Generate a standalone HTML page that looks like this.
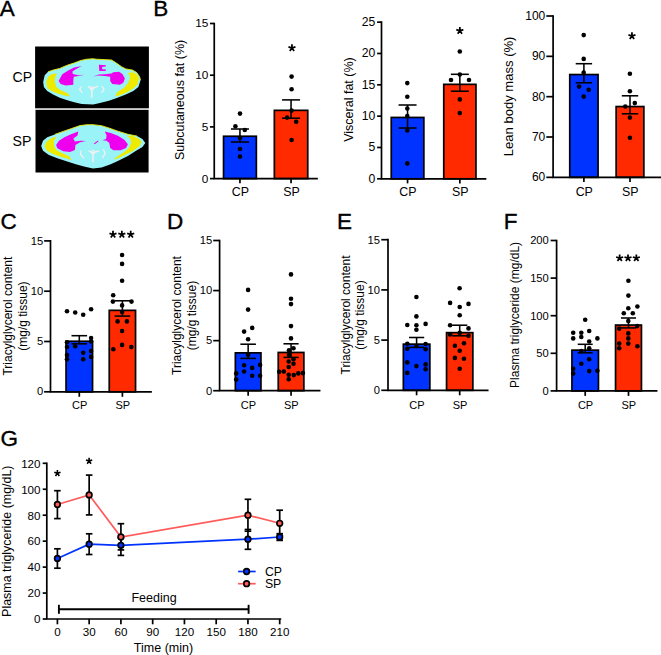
<!DOCTYPE html>
<html><head><meta charset="utf-8"><style>html,body{margin:0;padding:0;background:#fff;}svg{display:block;}</style></head><body>
<svg width="661" height="655" viewBox="0 0 661 655" font-family='"Liberation Sans", sans-serif'>
<rect width="661" height="655" fill="#fff"/>
<text x="-0.15" y="16.30" font-size="22.5" text-anchor="start" stroke="#000" stroke-width="0.35">A</text>
<text x="153.20" y="16.30" font-size="22.5" text-anchor="start" stroke="#000" stroke-width="0.35">B</text>
<text x="0.50" y="229.10" font-size="22.5" text-anchor="start" stroke="#000" stroke-width="0.35">C</text>
<text x="166.90" y="228.90" font-size="22.5" text-anchor="start" stroke="#000" stroke-width="0.35">D</text>
<text x="337.10" y="229.10" font-size="22.5" text-anchor="start" stroke="#000" stroke-width="0.35">E</text>
<text x="503.70" y="229.10" font-size="22.5" text-anchor="start" stroke="#000" stroke-width="0.35">F</text>
<text x="0.50" y="445.90" font-size="22.5" text-anchor="start" stroke="#000" stroke-width="0.35">G</text>
<rect x="223.55" y="136.25" width="32.80" height="42.35" fill="#0033ff" stroke="#000" stroke-width="1.7"/>
<rect x="274.35" y="110.35" width="33.40" height="68.25" fill="#ff2a00" stroke="#000" stroke-width="1.7"/>
<circle cx="240.00" cy="113.60" r="2.3" fill="#000"/>
<circle cx="235.40" cy="126.30" r="2.3" fill="#000"/>
<circle cx="244.80" cy="130.00" r="2.3" fill="#000"/>
<circle cx="240.00" cy="138.00" r="2.3" fill="#000"/>
<circle cx="240.00" cy="149.00" r="2.3" fill="#000"/>
<circle cx="240.00" cy="156.60" r="2.3" fill="#000"/>
<circle cx="291.60" cy="76.60" r="2.3" fill="#000"/>
<circle cx="291.60" cy="89.20" r="2.3" fill="#000"/>
<circle cx="291.60" cy="110.60" r="2.3" fill="#000"/>
<circle cx="287.10" cy="117.60" r="2.3" fill="#000"/>
<circle cx="296.20" cy="121.80" r="2.3" fill="#000"/>
<circle cx="291.60" cy="140.00" r="2.3" fill="#000"/>
<line x1="239.95" y1="129.00" x2="239.95" y2="142.00" stroke="#000" stroke-width="1.55" stroke-linecap="butt"/>
<line x1="230.95" y1="129.00" x2="248.95" y2="129.00" stroke="#000" stroke-width="1.55" stroke-linecap="butt"/>
<line x1="230.95" y1="142.00" x2="248.95" y2="142.00" stroke="#000" stroke-width="1.55" stroke-linecap="butt"/>
<line x1="291.05" y1="99.90" x2="291.05" y2="118.20" stroke="#000" stroke-width="1.55" stroke-linecap="butt"/>
<line x1="282.05" y1="99.90" x2="300.05" y2="99.90" stroke="#000" stroke-width="1.55" stroke-linecap="butt"/>
<line x1="282.05" y1="118.20" x2="300.05" y2="118.20" stroke="#000" stroke-width="1.55" stroke-linecap="butt"/>
<path d="M214.25,23.50 L214.25,178.60 L317.00,178.60" fill="none" stroke="#000" stroke-width="1.7" stroke-linecap="square"/>
<line x1="209.95" y1="178.60" x2="214.25" y2="178.60" stroke="#000" stroke-width="1.7" stroke-linecap="butt"/>
<text x="208.35" y="182.50" font-size="11.8" text-anchor="end">0</text>
<line x1="209.95" y1="126.90" x2="214.25" y2="126.90" stroke="#000" stroke-width="1.7" stroke-linecap="butt"/>
<text x="208.35" y="130.80" font-size="11.8" text-anchor="end">5</text>
<line x1="209.95" y1="75.20" x2="214.25" y2="75.20" stroke="#000" stroke-width="1.7" stroke-linecap="butt"/>
<text x="208.35" y="79.10" font-size="11.8" text-anchor="end">10</text>
<line x1="209.95" y1="23.50" x2="214.25" y2="23.50" stroke="#000" stroke-width="1.7" stroke-linecap="butt"/>
<text x="208.35" y="27.40" font-size="11.8" text-anchor="end">15</text>
<line x1="239.95" y1="178.60" x2="239.95" y2="183.20" stroke="#000" stroke-width="1.7" stroke-linecap="butt"/>
<text x="240.32" y="195.70" font-size="12.4" text-anchor="middle">CP</text>
<line x1="291.05" y1="178.60" x2="291.05" y2="183.20" stroke="#000" stroke-width="1.7" stroke-linecap="butt"/>
<text x="291.42" y="195.70" font-size="12.4" text-anchor="middle">SP</text>
<text x="184.20" y="99.90" font-size="12.5" text-anchor="middle" transform="rotate(-90 184.20 99.90)">Subcutaneous fat (%)</text>
<path d="M291.95,48.00L291.95,44.30M291.95,48.00L295.47,46.86M291.95,48.00L294.12,50.99M291.95,48.00L289.78,50.99M291.95,48.00L288.43,46.86" stroke="#000" stroke-width="1.75" fill="none"/>
<rect x="391.25" y="117.45" width="32.60" height="61.35" fill="#0033ff" stroke="#000" stroke-width="1.7"/>
<rect x="443.75" y="84.35" width="32.20" height="94.45" fill="#ff2a00" stroke="#000" stroke-width="1.7"/>
<circle cx="407.30" cy="83.10" r="2.3" fill="#000"/>
<circle cx="407.30" cy="96.80" r="2.3" fill="#000"/>
<circle cx="407.30" cy="108.50" r="2.3" fill="#000"/>
<circle cx="407.30" cy="116.00" r="2.3" fill="#000"/>
<circle cx="407.30" cy="130.40" r="2.3" fill="#000"/>
<circle cx="407.30" cy="163.40" r="2.3" fill="#000"/>
<circle cx="459.80" cy="51.50" r="2.3" fill="#000"/>
<circle cx="459.80" cy="74.50" r="2.3" fill="#000"/>
<circle cx="451.00" cy="80.00" r="2.3" fill="#000"/>
<circle cx="469.00" cy="80.00" r="2.3" fill="#000"/>
<circle cx="459.80" cy="99.40" r="2.3" fill="#000"/>
<circle cx="459.80" cy="113.10" r="2.3" fill="#000"/>
<line x1="407.55" y1="105.00" x2="407.55" y2="128.00" stroke="#000" stroke-width="1.55" stroke-linecap="butt"/>
<line x1="398.55" y1="105.00" x2="416.55" y2="105.00" stroke="#000" stroke-width="1.55" stroke-linecap="butt"/>
<line x1="398.55" y1="128.00" x2="416.55" y2="128.00" stroke="#000" stroke-width="1.55" stroke-linecap="butt"/>
<line x1="459.85" y1="74.30" x2="459.85" y2="91.20" stroke="#000" stroke-width="1.55" stroke-linecap="butt"/>
<line x1="450.85" y1="74.30" x2="468.85" y2="74.30" stroke="#000" stroke-width="1.55" stroke-linecap="butt"/>
<line x1="450.85" y1="91.20" x2="468.85" y2="91.20" stroke="#000" stroke-width="1.55" stroke-linecap="butt"/>
<path d="M381.50,22.15 L381.50,178.80 L485.50,178.80" fill="none" stroke="#000" stroke-width="1.7" stroke-linecap="square"/>
<line x1="377.10" y1="178.80" x2="381.50" y2="178.80" stroke="#000" stroke-width="1.7" stroke-linecap="butt"/>
<text x="375.20" y="182.50" font-size="12.2" text-anchor="end">0</text>
<line x1="377.10" y1="147.47" x2="381.50" y2="147.47" stroke="#000" stroke-width="1.7" stroke-linecap="butt"/>
<text x="375.20" y="151.17" font-size="12.2" text-anchor="end">5</text>
<line x1="377.10" y1="116.14" x2="381.50" y2="116.14" stroke="#000" stroke-width="1.7" stroke-linecap="butt"/>
<text x="375.20" y="119.84" font-size="12.2" text-anchor="end">10</text>
<line x1="377.10" y1="84.81" x2="381.50" y2="84.81" stroke="#000" stroke-width="1.7" stroke-linecap="butt"/>
<text x="375.20" y="88.51" font-size="12.2" text-anchor="end">15</text>
<line x1="377.10" y1="53.48" x2="381.50" y2="53.48" stroke="#000" stroke-width="1.7" stroke-linecap="butt"/>
<text x="375.20" y="57.18" font-size="12.2" text-anchor="end">20</text>
<line x1="377.10" y1="22.15" x2="381.50" y2="22.15" stroke="#000" stroke-width="1.7" stroke-linecap="butt"/>
<text x="375.20" y="25.85" font-size="12.2" text-anchor="end">25</text>
<line x1="407.55" y1="178.80" x2="407.55" y2="183.40" stroke="#000" stroke-width="1.7" stroke-linecap="butt"/>
<text x="407.92" y="195.70" font-size="12.4" text-anchor="middle">CP</text>
<line x1="459.85" y1="178.80" x2="459.85" y2="183.40" stroke="#000" stroke-width="1.7" stroke-linecap="butt"/>
<text x="460.22" y="195.70" font-size="12.4" text-anchor="middle">SP</text>
<text x="352.60" y="99.50" font-size="12.5" text-anchor="middle" transform="rotate(-90 352.60 99.50)">Visceral fat (%)</text>
<path d="M459.85,30.80L459.85,27.10M459.85,30.80L463.37,29.66M459.85,30.80L462.02,33.79M459.85,30.80L457.68,33.79M459.85,30.80L456.33,29.66" stroke="#000" stroke-width="1.75" fill="none"/>
<rect x="569.75" y="74.55" width="28.30" height="102.80" fill="#0033ff" stroke="#000" stroke-width="1.7"/>
<rect x="616.15" y="106.55" width="27.70" height="70.80" fill="#ff2a00" stroke="#000" stroke-width="1.7"/>
<circle cx="583.70" cy="35.10" r="2.3" fill="#000"/>
<circle cx="583.70" cy="58.90" r="2.3" fill="#000"/>
<circle cx="583.70" cy="72.60" r="2.3" fill="#000"/>
<circle cx="579.10" cy="86.60" r="2.3" fill="#000"/>
<circle cx="588.70" cy="89.70" r="2.3" fill="#000"/>
<circle cx="583.70" cy="96.60" r="2.3" fill="#000"/>
<circle cx="629.90" cy="73.70" r="2.3" fill="#000"/>
<circle cx="629.90" cy="91.20" r="2.3" fill="#000"/>
<circle cx="625.30" cy="106.50" r="2.3" fill="#000"/>
<circle cx="634.80" cy="103.10" r="2.3" fill="#000"/>
<circle cx="629.90" cy="117.60" r="2.3" fill="#000"/>
<circle cx="629.90" cy="137.80" r="2.3" fill="#000"/>
<line x1="583.90" y1="63.70" x2="583.90" y2="82.80" stroke="#000" stroke-width="1.55" stroke-linecap="butt"/>
<line x1="575.70" y1="63.70" x2="592.10" y2="63.70" stroke="#000" stroke-width="1.55" stroke-linecap="butt"/>
<line x1="575.70" y1="82.80" x2="592.10" y2="82.80" stroke="#000" stroke-width="1.55" stroke-linecap="butt"/>
<line x1="630.00" y1="95.80" x2="630.00" y2="113.80" stroke="#000" stroke-width="1.55" stroke-linecap="butt"/>
<line x1="621.80" y1="95.80" x2="638.20" y2="95.80" stroke="#000" stroke-width="1.55" stroke-linecap="butt"/>
<line x1="621.80" y1="113.80" x2="638.20" y2="113.80" stroke="#000" stroke-width="1.55" stroke-linecap="butt"/>
<path d="M553.10,16.00 L553.10,177.35 L661.00,177.35" fill="none" stroke="#000" stroke-width="1.7" stroke-linecap="square"/>
<line x1="546.30" y1="177.35" x2="553.10" y2="177.35" stroke="#000" stroke-width="1.7" stroke-linecap="butt"/>
<text x="545.30" y="181.45" font-size="12.0" text-anchor="end">60</text>
<line x1="546.30" y1="137.01" x2="553.10" y2="137.01" stroke="#000" stroke-width="1.7" stroke-linecap="butt"/>
<text x="545.30" y="141.11" font-size="12.0" text-anchor="end">70</text>
<line x1="546.30" y1="96.67" x2="553.10" y2="96.67" stroke="#000" stroke-width="1.7" stroke-linecap="butt"/>
<text x="545.30" y="100.77" font-size="12.0" text-anchor="end">80</text>
<line x1="546.30" y1="56.34" x2="553.10" y2="56.34" stroke="#000" stroke-width="1.7" stroke-linecap="butt"/>
<text x="545.30" y="60.44" font-size="12.0" text-anchor="end">90</text>
<line x1="546.30" y1="16.00" x2="553.10" y2="16.00" stroke="#000" stroke-width="1.7" stroke-linecap="butt"/>
<text x="545.30" y="20.10" font-size="12.0" text-anchor="end">100</text>
<line x1="583.90" y1="177.35" x2="583.90" y2="181.95" stroke="#000" stroke-width="1.7" stroke-linecap="butt"/>
<text x="584.27" y="195.90" font-size="12.4" text-anchor="middle">CP</text>
<line x1="630.00" y1="177.35" x2="630.00" y2="181.95" stroke="#000" stroke-width="1.7" stroke-linecap="butt"/>
<text x="630.37" y="195.90" font-size="12.4" text-anchor="middle">SP</text>
<text x="513.50" y="96.40" font-size="13.05" text-anchor="middle" transform="rotate(-90 513.50 96.40)">Lean body mass (%)</text>
<path d="M631.95,36.00L631.95,32.30M631.95,36.00L635.47,34.86M631.95,36.00L634.12,38.99M631.95,36.00L629.78,38.99M631.95,36.00L628.43,34.86" stroke="#000" stroke-width="1.75" fill="none"/>
<rect x="66.05" y="341.25" width="26.50" height="50.55" fill="#0033ff" stroke="#000" stroke-width="1.7"/>
<rect x="109.25" y="310.35" width="26.30" height="81.45" fill="#ff2a00" stroke="#000" stroke-width="1.7"/>
<circle cx="67.00" cy="311.30" r="2.3" fill="#000"/>
<circle cx="75.20" cy="312.50" r="2.3" fill="#000"/>
<circle cx="83.20" cy="314.70" r="2.3" fill="#000"/>
<circle cx="91.10" cy="309.30" r="2.3" fill="#000"/>
<circle cx="91.10" cy="338.10" r="2.3" fill="#000"/>
<circle cx="67.00" cy="342.20" r="2.3" fill="#000"/>
<circle cx="75.20" cy="346.30" r="2.3" fill="#000"/>
<circle cx="67.00" cy="347.00" r="2.3" fill="#000"/>
<circle cx="91.10" cy="341.50" r="2.3" fill="#000"/>
<circle cx="83.20" cy="352.80" r="2.3" fill="#000"/>
<circle cx="91.10" cy="351.00" r="2.3" fill="#000"/>
<circle cx="67.00" cy="355.10" r="2.3" fill="#000"/>
<circle cx="67.00" cy="359.20" r="2.3" fill="#000"/>
<circle cx="83.20" cy="359.20" r="2.3" fill="#000"/>
<circle cx="91.10" cy="356.90" r="2.3" fill="#000"/>
<circle cx="122.10" cy="255.00" r="2.3" fill="#000"/>
<circle cx="122.10" cy="263.90" r="2.3" fill="#000"/>
<circle cx="122.10" cy="280.80" r="2.3" fill="#000"/>
<circle cx="113.20" cy="295.30" r="2.3" fill="#000"/>
<circle cx="112.90" cy="301.60" r="2.3" fill="#000"/>
<circle cx="131.50" cy="301.60" r="2.3" fill="#000"/>
<circle cx="122.10" cy="305.40" r="2.3" fill="#000"/>
<circle cx="122.10" cy="312.00" r="2.3" fill="#000"/>
<circle cx="117.60" cy="321.40" r="2.3" fill="#000"/>
<circle cx="126.90" cy="321.40" r="2.3" fill="#000"/>
<circle cx="122.10" cy="331.00" r="2.3" fill="#000"/>
<circle cx="113.30" cy="349.30" r="2.3" fill="#000"/>
<circle cx="122.10" cy="344.90" r="2.3" fill="#000"/>
<circle cx="131.30" cy="347.00" r="2.3" fill="#000"/>
<line x1="79.30" y1="335.70" x2="79.30" y2="343.80" stroke="#000" stroke-width="1.55" stroke-linecap="butt"/>
<line x1="71.50" y1="335.70" x2="87.10" y2="335.70" stroke="#000" stroke-width="1.55" stroke-linecap="butt"/>
<line x1="71.50" y1="343.80" x2="87.10" y2="343.80" stroke="#000" stroke-width="1.55" stroke-linecap="butt"/>
<line x1="122.40" y1="300.80" x2="122.40" y2="316.10" stroke="#000" stroke-width="1.55" stroke-linecap="butt"/>
<line x1="114.60" y1="300.80" x2="130.20" y2="300.80" stroke="#000" stroke-width="1.55" stroke-linecap="butt"/>
<line x1="114.60" y1="316.10" x2="130.20" y2="316.10" stroke="#000" stroke-width="1.55" stroke-linecap="butt"/>
<path d="M50.50,240.90 L50.50,391.80 L151.00,391.80" fill="none" stroke="#000" stroke-width="1.7" stroke-linecap="square"/>
<line x1="44.10" y1="391.80" x2="50.50" y2="391.80" stroke="#000" stroke-width="1.7" stroke-linecap="butt"/>
<text x="43.20" y="395.40" font-size="11.2" text-anchor="end">0</text>
<line x1="44.10" y1="341.50" x2="50.50" y2="341.50" stroke="#000" stroke-width="1.7" stroke-linecap="butt"/>
<text x="43.20" y="345.10" font-size="11.2" text-anchor="end">5</text>
<line x1="44.10" y1="291.20" x2="50.50" y2="291.20" stroke="#000" stroke-width="1.7" stroke-linecap="butt"/>
<text x="43.20" y="294.80" font-size="11.2" text-anchor="end">10</text>
<line x1="44.10" y1="240.90" x2="50.50" y2="240.90" stroke="#000" stroke-width="1.7" stroke-linecap="butt"/>
<text x="43.20" y="244.50" font-size="11.2" text-anchor="end">15</text>
<line x1="79.30" y1="391.80" x2="79.30" y2="396.80" stroke="#000" stroke-width="1.7" stroke-linecap="butt"/>
<text x="79.63" y="408.50" font-size="11.0" text-anchor="middle">CP</text>
<line x1="122.40" y1="391.80" x2="122.40" y2="396.80" stroke="#000" stroke-width="1.7" stroke-linecap="butt"/>
<text x="122.73" y="408.50" font-size="11.0" text-anchor="middle">SP</text>
<text x="12.10" y="316.10" font-size="12.0" text-anchor="middle" transform="rotate(-90 12.10 316.10)">Triacylglycerol content</text>
<text x="27.30" y="316.10" font-size="12.0" text-anchor="middle" transform="rotate(-90 27.30 316.10)">(mg/g tissue)</text>
<path d="M113.00,234.50L113.00,230.80M113.00,234.50L116.52,233.36M113.00,234.50L115.17,237.49M113.00,234.50L110.83,237.49M113.00,234.50L109.48,233.36" stroke="#000" stroke-width="1.75" fill="none"/>
<path d="M121.85,234.50L121.85,230.80M121.85,234.50L125.37,233.36M121.85,234.50L124.02,237.49M121.85,234.50L119.68,237.49M121.85,234.50L118.33,233.36" stroke="#000" stroke-width="1.75" fill="none"/>
<path d="M130.70,234.50L130.70,230.80M130.70,234.50L134.22,233.36M130.70,234.50L132.87,237.49M130.70,234.50L128.53,237.49M130.70,234.50L127.18,233.36" stroke="#000" stroke-width="1.75" fill="none"/>
<rect x="235.35" y="352.85" width="25.60" height="37.85" fill="#0033ff" stroke="#000" stroke-width="1.7"/>
<rect x="278.25" y="352.45" width="25.60" height="38.25" fill="#ff2a00" stroke="#000" stroke-width="1.7"/>
<circle cx="248.10" cy="289.90" r="2.3" fill="#000"/>
<circle cx="248.10" cy="309.60" r="2.3" fill="#000"/>
<circle cx="244.10" cy="331.60" r="2.3" fill="#000"/>
<circle cx="252.20" cy="327.90" r="2.3" fill="#000"/>
<circle cx="248.10" cy="339.30" r="2.3" fill="#000"/>
<circle cx="248.10" cy="354.70" r="2.3" fill="#000"/>
<circle cx="244.10" cy="365.20" r="2.3" fill="#000"/>
<circle cx="252.20" cy="367.90" r="2.3" fill="#000"/>
<circle cx="260.10" cy="364.90" r="2.3" fill="#000"/>
<circle cx="244.10" cy="371.50" r="2.3" fill="#000"/>
<circle cx="236.20" cy="373.40" r="2.3" fill="#000"/>
<circle cx="252.20" cy="375.80" r="2.3" fill="#000"/>
<circle cx="260.10" cy="375.80" r="2.3" fill="#000"/>
<circle cx="236.20" cy="379.50" r="2.3" fill="#000"/>
<circle cx="291.00" cy="274.40" r="2.3" fill="#000"/>
<circle cx="291.00" cy="298.80" r="2.3" fill="#000"/>
<circle cx="291.00" cy="304.10" r="2.3" fill="#000"/>
<circle cx="291.00" cy="326.10" r="2.3" fill="#000"/>
<circle cx="291.00" cy="338.40" r="2.3" fill="#000"/>
<circle cx="289.00" cy="350.20" r="2.3" fill="#000"/>
<circle cx="293.50" cy="348.30" r="2.3" fill="#000"/>
<circle cx="289.00" cy="355.10" r="2.3" fill="#000"/>
<circle cx="293.50" cy="359.20" r="2.3" fill="#000"/>
<circle cx="288.70" cy="361.50" r="2.3" fill="#000"/>
<circle cx="293.50" cy="363.80" r="2.3" fill="#000"/>
<circle cx="288.70" cy="367.00" r="2.3" fill="#000"/>
<circle cx="279.20" cy="371.70" r="2.3" fill="#000"/>
<circle cx="283.80" cy="371.50" r="2.3" fill="#000"/>
<circle cx="288.70" cy="374.70" r="2.3" fill="#000"/>
<circle cx="293.80" cy="375.10" r="2.3" fill="#000"/>
<circle cx="298.30" cy="373.40" r="2.3" fill="#000"/>
<circle cx="302.90" cy="373.10" r="2.3" fill="#000"/>
<circle cx="288.70" cy="379.20" r="2.3" fill="#000"/>
<line x1="248.15" y1="344.20" x2="248.15" y2="358.40" stroke="#000" stroke-width="1.55" stroke-linecap="butt"/>
<line x1="240.35" y1="344.20" x2="255.95" y2="344.20" stroke="#000" stroke-width="1.55" stroke-linecap="butt"/>
<line x1="240.35" y1="358.40" x2="255.95" y2="358.40" stroke="#000" stroke-width="1.55" stroke-linecap="butt"/>
<line x1="291.05" y1="343.80" x2="291.05" y2="357.40" stroke="#000" stroke-width="1.55" stroke-linecap="butt"/>
<line x1="283.45" y1="343.80" x2="298.65" y2="343.80" stroke="#000" stroke-width="1.55" stroke-linecap="butt"/>
<line x1="283.45" y1="357.40" x2="298.65" y2="357.40" stroke="#000" stroke-width="1.55" stroke-linecap="butt"/>
<path d="M219.60,240.50 L219.60,390.70 L319.60,390.70" fill="none" stroke="#000" stroke-width="1.7" stroke-linecap="square"/>
<line x1="213.20" y1="390.70" x2="219.60" y2="390.70" stroke="#000" stroke-width="1.7" stroke-linecap="butt"/>
<text x="212.20" y="394.50" font-size="11.2" text-anchor="end">0</text>
<line x1="213.20" y1="340.63" x2="219.60" y2="340.63" stroke="#000" stroke-width="1.7" stroke-linecap="butt"/>
<text x="212.20" y="344.43" font-size="11.2" text-anchor="end">5</text>
<line x1="213.20" y1="290.57" x2="219.60" y2="290.57" stroke="#000" stroke-width="1.7" stroke-linecap="butt"/>
<text x="212.20" y="294.37" font-size="11.2" text-anchor="end">10</text>
<line x1="213.20" y1="240.50" x2="219.60" y2="240.50" stroke="#000" stroke-width="1.7" stroke-linecap="butt"/>
<text x="212.20" y="244.30" font-size="11.2" text-anchor="end">15</text>
<line x1="248.15" y1="390.70" x2="248.15" y2="395.70" stroke="#000" stroke-width="1.7" stroke-linecap="butt"/>
<text x="248.48" y="408.50" font-size="11.0" text-anchor="middle">CP</text>
<line x1="291.05" y1="390.70" x2="291.05" y2="395.70" stroke="#000" stroke-width="1.7" stroke-linecap="butt"/>
<text x="291.38" y="408.50" font-size="11.0" text-anchor="middle">SP</text>
<text x="180.70" y="315.50" font-size="12.0" text-anchor="middle" transform="rotate(-90 180.70 315.50)">Triacylglycerol content</text>
<text x="196.10" y="315.50" font-size="12.0" text-anchor="middle" transform="rotate(-90 196.10 315.50)">(mg/g tissue)</text>
<rect x="403.35" y="344.15" width="26.50" height="46.15" fill="#0033ff" stroke="#000" stroke-width="1.7"/>
<rect x="446.55" y="332.65" width="26.30" height="57.65" fill="#ff2a00" stroke="#000" stroke-width="1.7"/>
<circle cx="416.40" cy="297.00" r="2.3" fill="#000"/>
<circle cx="416.40" cy="316.40" r="2.3" fill="#000"/>
<circle cx="407.30" cy="325.00" r="2.3" fill="#000"/>
<circle cx="416.40" cy="325.20" r="2.3" fill="#000"/>
<circle cx="425.60" cy="323.90" r="2.3" fill="#000"/>
<circle cx="416.40" cy="329.70" r="2.3" fill="#000"/>
<circle cx="407.30" cy="343.70" r="2.3" fill="#000"/>
<circle cx="425.60" cy="344.00" r="2.3" fill="#000"/>
<circle cx="407.30" cy="348.80" r="2.3" fill="#000"/>
<circle cx="425.60" cy="349.20" r="2.3" fill="#000"/>
<circle cx="416.40" cy="346.00" r="2.3" fill="#000"/>
<circle cx="407.30" cy="362.40" r="2.3" fill="#000"/>
<circle cx="416.40" cy="366.10" r="2.3" fill="#000"/>
<circle cx="425.60" cy="364.40" r="2.3" fill="#000"/>
<circle cx="425.60" cy="369.20" r="2.3" fill="#000"/>
<circle cx="407.30" cy="372.90" r="2.3" fill="#000"/>
<circle cx="459.60" cy="288.20" r="2.3" fill="#000"/>
<circle cx="450.10" cy="302.90" r="2.3" fill="#000"/>
<circle cx="459.70" cy="307.00" r="2.3" fill="#000"/>
<circle cx="468.50" cy="303.90" r="2.3" fill="#000"/>
<circle cx="459.70" cy="315.20" r="2.3" fill="#000"/>
<circle cx="450.10" cy="325.20" r="2.3" fill="#000"/>
<circle cx="468.50" cy="328.40" r="2.3" fill="#000"/>
<circle cx="450.10" cy="334.50" r="2.3" fill="#000"/>
<circle cx="468.50" cy="335.80" r="2.3" fill="#000"/>
<circle cx="459.70" cy="332.90" r="2.3" fill="#000"/>
<circle cx="454.90" cy="345.70" r="2.3" fill="#000"/>
<circle cx="464.00" cy="343.30" r="2.3" fill="#000"/>
<circle cx="459.70" cy="350.80" r="2.3" fill="#000"/>
<circle cx="454.90" cy="357.90" r="2.3" fill="#000"/>
<circle cx="464.00" cy="358.70" r="2.3" fill="#000"/>
<circle cx="459.70" cy="368.80" r="2.3" fill="#000"/>
<line x1="416.60" y1="337.50" x2="416.60" y2="347.40" stroke="#000" stroke-width="1.55" stroke-linecap="butt"/>
<line x1="409.00" y1="337.50" x2="424.20" y2="337.50" stroke="#000" stroke-width="1.55" stroke-linecap="butt"/>
<line x1="409.00" y1="347.40" x2="424.20" y2="347.40" stroke="#000" stroke-width="1.55" stroke-linecap="butt"/>
<line x1="459.70" y1="325.20" x2="459.70" y2="335.80" stroke="#000" stroke-width="1.55" stroke-linecap="butt"/>
<line x1="452.10" y1="325.20" x2="467.30" y2="325.20" stroke="#000" stroke-width="1.55" stroke-linecap="butt"/>
<line x1="452.10" y1="335.80" x2="467.30" y2="335.80" stroke="#000" stroke-width="1.55" stroke-linecap="butt"/>
<path d="M388.00,239.70 L388.00,390.30 L487.70,390.30" fill="none" stroke="#000" stroke-width="1.7" stroke-linecap="square"/>
<line x1="381.30" y1="390.30" x2="388.00" y2="390.30" stroke="#000" stroke-width="1.7" stroke-linecap="butt"/>
<text x="380.00" y="394.10" font-size="11.2" text-anchor="end">0</text>
<line x1="381.30" y1="340.10" x2="388.00" y2="340.10" stroke="#000" stroke-width="1.7" stroke-linecap="butt"/>
<text x="380.00" y="343.90" font-size="11.2" text-anchor="end">5</text>
<line x1="381.30" y1="289.90" x2="388.00" y2="289.90" stroke="#000" stroke-width="1.7" stroke-linecap="butt"/>
<text x="380.00" y="293.70" font-size="11.2" text-anchor="end">10</text>
<line x1="381.30" y1="239.70" x2="388.00" y2="239.70" stroke="#000" stroke-width="1.7" stroke-linecap="butt"/>
<text x="380.00" y="243.50" font-size="11.2" text-anchor="end">15</text>
<line x1="416.60" y1="390.30" x2="416.60" y2="395.30" stroke="#000" stroke-width="1.7" stroke-linecap="butt"/>
<text x="416.93" y="408.50" font-size="11.0" text-anchor="middle">CP</text>
<line x1="459.70" y1="390.30" x2="459.70" y2="395.30" stroke="#000" stroke-width="1.7" stroke-linecap="butt"/>
<text x="460.03" y="408.50" font-size="11.0" text-anchor="middle">SP</text>
<text x="350.30" y="315.00" font-size="12.0" text-anchor="middle" transform="rotate(-90 350.30 315.00)">Triacylglycerol content</text>
<text x="364.20" y="315.00" font-size="12.0" text-anchor="middle" transform="rotate(-90 364.20 315.00)">(mg/g tissue)</text>
<rect x="571.95" y="350.15" width="26.50" height="40.75" fill="#0033ff" stroke="#000" stroke-width="1.7"/>
<rect x="615.55" y="325.05" width="25.90" height="65.85" fill="#ff2a00" stroke="#000" stroke-width="1.7"/>
<circle cx="585.20" cy="319.70" r="2.3" fill="#000"/>
<circle cx="573.20" cy="332.70" r="2.3" fill="#000"/>
<circle cx="573.20" cy="338.40" r="2.3" fill="#000"/>
<circle cx="581.30" cy="332.70" r="2.3" fill="#000"/>
<circle cx="581.30" cy="337.00" r="2.3" fill="#000"/>
<circle cx="589.20" cy="331.00" r="2.3" fill="#000"/>
<circle cx="597.40" cy="338.40" r="2.3" fill="#000"/>
<circle cx="589.20" cy="341.50" r="2.3" fill="#000"/>
<circle cx="589.20" cy="348.30" r="2.3" fill="#000"/>
<circle cx="581.30" cy="351.10" r="2.3" fill="#000"/>
<circle cx="589.20" cy="359.20" r="2.3" fill="#000"/>
<circle cx="581.30" cy="363.70" r="2.3" fill="#000"/>
<circle cx="573.20" cy="368.80" r="2.3" fill="#000"/>
<circle cx="573.20" cy="373.50" r="2.3" fill="#000"/>
<circle cx="589.20" cy="371.10" r="2.3" fill="#000"/>
<circle cx="597.40" cy="370.80" r="2.3" fill="#000"/>
<circle cx="628.40" cy="280.80" r="2.3" fill="#000"/>
<circle cx="628.40" cy="295.60" r="2.3" fill="#000"/>
<circle cx="628.30" cy="308.20" r="2.3" fill="#000"/>
<circle cx="637.40" cy="306.50" r="2.3" fill="#000"/>
<circle cx="623.80" cy="313.30" r="2.3" fill="#000"/>
<circle cx="632.80" cy="313.30" r="2.3" fill="#000"/>
<circle cx="628.30" cy="321.10" r="2.3" fill="#000"/>
<circle cx="619.20" cy="328.60" r="2.3" fill="#000"/>
<circle cx="637.20" cy="326.10" r="2.3" fill="#000"/>
<circle cx="628.30" cy="333.40" r="2.3" fill="#000"/>
<circle cx="628.30" cy="338.40" r="2.3" fill="#000"/>
<circle cx="619.20" cy="343.60" r="2.3" fill="#000"/>
<circle cx="628.30" cy="343.60" r="2.3" fill="#000"/>
<circle cx="619.20" cy="348.30" r="2.3" fill="#000"/>
<circle cx="637.40" cy="346.30" r="2.3" fill="#000"/>
<line x1="585.20" y1="344.30" x2="585.20" y2="352.80" stroke="#000" stroke-width="1.55" stroke-linecap="butt"/>
<line x1="577.70" y1="344.30" x2="592.70" y2="344.30" stroke="#000" stroke-width="1.55" stroke-linecap="butt"/>
<line x1="577.70" y1="352.80" x2="592.70" y2="352.80" stroke="#000" stroke-width="1.55" stroke-linecap="butt"/>
<line x1="628.50" y1="318.00" x2="628.50" y2="327.90" stroke="#000" stroke-width="1.55" stroke-linecap="butt"/>
<line x1="621.00" y1="318.00" x2="636.00" y2="318.00" stroke="#000" stroke-width="1.55" stroke-linecap="butt"/>
<line x1="621.00" y1="327.90" x2="636.00" y2="327.90" stroke="#000" stroke-width="1.55" stroke-linecap="butt"/>
<path d="M556.60,240.50 L556.60,390.90 L656.60,390.90" fill="none" stroke="#000" stroke-width="1.7" stroke-linecap="square"/>
<line x1="550.60" y1="390.90" x2="556.60" y2="390.90" stroke="#000" stroke-width="1.7" stroke-linecap="butt"/>
<text x="548.80" y="394.70" font-size="11.2" text-anchor="end">0</text>
<line x1="550.60" y1="353.30" x2="556.60" y2="353.30" stroke="#000" stroke-width="1.7" stroke-linecap="butt"/>
<text x="548.80" y="357.10" font-size="11.2" text-anchor="end">50</text>
<line x1="550.60" y1="315.70" x2="556.60" y2="315.70" stroke="#000" stroke-width="1.7" stroke-linecap="butt"/>
<text x="548.80" y="319.50" font-size="11.2" text-anchor="end">100</text>
<line x1="550.60" y1="278.10" x2="556.60" y2="278.10" stroke="#000" stroke-width="1.7" stroke-linecap="butt"/>
<text x="548.80" y="281.90" font-size="11.2" text-anchor="end">150</text>
<line x1="550.60" y1="240.50" x2="556.60" y2="240.50" stroke="#000" stroke-width="1.7" stroke-linecap="butt"/>
<text x="548.80" y="244.30" font-size="11.2" text-anchor="end">200</text>
<line x1="585.20" y1="390.90" x2="585.20" y2="395.90" stroke="#000" stroke-width="1.7" stroke-linecap="butt"/>
<text x="585.53" y="408.50" font-size="11.0" text-anchor="middle">CP</text>
<line x1="628.50" y1="390.90" x2="628.50" y2="395.90" stroke="#000" stroke-width="1.7" stroke-linecap="butt"/>
<text x="628.83" y="408.50" font-size="11.0" text-anchor="middle">SP</text>
<text x="518.80" y="314.90" font-size="12.0" text-anchor="middle" transform="rotate(-90 518.80 314.90)">Plasma triglyceride (mg/dL)</text>
<path d="M619.65,258.10L619.65,254.40M619.65,258.10L623.17,256.96M619.65,258.10L621.82,261.09M619.65,258.10L617.48,261.09M619.65,258.10L616.13,256.96" stroke="#000" stroke-width="1.75" fill="none"/>
<path d="M628.00,258.10L628.00,254.40M628.00,258.10L631.52,256.96M628.00,258.10L630.17,261.09M628.00,258.10L625.83,261.09M628.00,258.10L624.48,256.96" stroke="#000" stroke-width="1.75" fill="none"/>
<path d="M636.35,258.10L636.35,254.40M636.35,258.10L639.87,256.96M636.35,258.10L638.52,261.09M636.35,258.10L634.18,261.09M636.35,258.10L632.83,256.96" stroke="#000" stroke-width="1.75" fill="none"/>
<path d="M46.8,463.3 L46.8,619.0 L280.4,619.0" fill="none" stroke="#000" stroke-width="1.7" stroke-linecap="square"/>
<line x1="42.70" y1="619.00" x2="46.80" y2="619.00" stroke="#000" stroke-width="1.7" stroke-linecap="butt"/>
<text x="40.50" y="623.30" font-size="11.6" text-anchor="end">0</text>
<line x1="42.70" y1="593.05" x2="46.80" y2="593.05" stroke="#000" stroke-width="1.7" stroke-linecap="butt"/>
<text x="40.50" y="597.35" font-size="11.6" text-anchor="end">20</text>
<line x1="42.70" y1="567.10" x2="46.80" y2="567.10" stroke="#000" stroke-width="1.7" stroke-linecap="butt"/>
<text x="40.50" y="571.40" font-size="11.6" text-anchor="end">40</text>
<line x1="42.70" y1="541.15" x2="46.80" y2="541.15" stroke="#000" stroke-width="1.7" stroke-linecap="butt"/>
<text x="40.50" y="545.45" font-size="11.6" text-anchor="end">60</text>
<line x1="42.70" y1="515.20" x2="46.80" y2="515.20" stroke="#000" stroke-width="1.7" stroke-linecap="butt"/>
<text x="40.50" y="519.50" font-size="11.6" text-anchor="end">80</text>
<line x1="42.70" y1="489.25" x2="46.80" y2="489.25" stroke="#000" stroke-width="1.7" stroke-linecap="butt"/>
<text x="40.50" y="493.55" font-size="11.6" text-anchor="end">100</text>
<line x1="42.70" y1="463.30" x2="46.80" y2="463.30" stroke="#000" stroke-width="1.7" stroke-linecap="butt"/>
<text x="40.50" y="467.60" font-size="11.6" text-anchor="end">120</text>
<line x1="57.40" y1="619.00" x2="57.40" y2="624.30" stroke="#000" stroke-width="1.7" stroke-linecap="butt"/>
<text x="57.40" y="635.70" font-size="11.6" text-anchor="middle">0</text>
<line x1="89.16" y1="619.00" x2="89.16" y2="624.30" stroke="#000" stroke-width="1.7" stroke-linecap="butt"/>
<text x="89.16" y="635.70" font-size="11.6" text-anchor="middle">30</text>
<line x1="120.91" y1="619.00" x2="120.91" y2="624.30" stroke="#000" stroke-width="1.7" stroke-linecap="butt"/>
<text x="120.91" y="635.70" font-size="11.6" text-anchor="middle">60</text>
<line x1="152.67" y1="619.00" x2="152.67" y2="624.30" stroke="#000" stroke-width="1.7" stroke-linecap="butt"/>
<text x="152.67" y="635.70" font-size="11.6" text-anchor="middle">90</text>
<line x1="184.43" y1="619.00" x2="184.43" y2="624.30" stroke="#000" stroke-width="1.7" stroke-linecap="butt"/>
<text x="184.43" y="635.70" font-size="11.6" text-anchor="middle">120</text>
<line x1="216.19" y1="619.00" x2="216.19" y2="624.30" stroke="#000" stroke-width="1.7" stroke-linecap="butt"/>
<text x="216.19" y="635.70" font-size="11.6" text-anchor="middle">150</text>
<line x1="247.94" y1="619.00" x2="247.94" y2="624.30" stroke="#000" stroke-width="1.7" stroke-linecap="butt"/>
<text x="247.94" y="635.70" font-size="11.6" text-anchor="middle">180</text>
<line x1="279.70" y1="619.00" x2="279.70" y2="624.30" stroke="#000" stroke-width="1.7" stroke-linecap="butt"/>
<text x="279.70" y="635.70" font-size="11.6" text-anchor="middle">210</text>
<text x="163.50" y="651.90" font-size="12.5" text-anchor="middle">Time (min)</text>
<text x="11.30" y="541.20" font-size="12.45" text-anchor="middle" transform="rotate(-90 11.30 541.20)">Plasma triglyceride (mg/dL)</text>
<line x1="58.90" y1="609.20" x2="248.60" y2="609.20" stroke="#000" stroke-width="1.9" stroke-linecap="butt"/>
<line x1="58.90" y1="604.80" x2="58.90" y2="613.80" stroke="#000" stroke-width="1.9" stroke-linecap="butt"/>
<line x1="248.60" y1="604.80" x2="248.60" y2="613.80" stroke="#000" stroke-width="1.9" stroke-linecap="butt"/>
<text x="154.00" y="601.80" font-size="12.5" text-anchor="middle">Feeding</text>
<line x1="57.40" y1="548.80" x2="57.40" y2="568.20" stroke="#000" stroke-width="1.7" stroke-linecap="butt"/>
<line x1="54.10" y1="548.80" x2="60.70" y2="548.80" stroke="#000" stroke-width="1.7" stroke-linecap="butt"/>
<line x1="54.10" y1="568.20" x2="60.70" y2="568.20" stroke="#000" stroke-width="1.7" stroke-linecap="butt"/>
<line x1="89.16" y1="533.80" x2="89.16" y2="554.50" stroke="#000" stroke-width="1.7" stroke-linecap="butt"/>
<line x1="85.86" y1="533.80" x2="92.46" y2="533.80" stroke="#000" stroke-width="1.7" stroke-linecap="butt"/>
<line x1="85.86" y1="554.50" x2="92.46" y2="554.50" stroke="#000" stroke-width="1.7" stroke-linecap="butt"/>
<line x1="120.91" y1="537.50" x2="120.91" y2="555.40" stroke="#000" stroke-width="1.7" stroke-linecap="butt"/>
<line x1="117.61" y1="537.50" x2="124.21" y2="537.50" stroke="#000" stroke-width="1.7" stroke-linecap="butt"/>
<line x1="117.61" y1="555.40" x2="124.21" y2="555.40" stroke="#000" stroke-width="1.7" stroke-linecap="butt"/>
<line x1="247.94" y1="529.50" x2="247.94" y2="549.30" stroke="#000" stroke-width="1.7" stroke-linecap="butt"/>
<line x1="244.64" y1="529.50" x2="251.24" y2="529.50" stroke="#000" stroke-width="1.7" stroke-linecap="butt"/>
<line x1="244.64" y1="549.30" x2="251.24" y2="549.30" stroke="#000" stroke-width="1.7" stroke-linecap="butt"/>
<line x1="279.70" y1="533.70" x2="279.70" y2="540.40" stroke="#000" stroke-width="1.7" stroke-linecap="butt"/>
<line x1="276.40" y1="533.70" x2="283.00" y2="533.70" stroke="#000" stroke-width="1.7" stroke-linecap="butt"/>
<line x1="276.40" y1="540.40" x2="283.00" y2="540.40" stroke="#000" stroke-width="1.7" stroke-linecap="butt"/>
<line x1="57.40" y1="490.70" x2="57.40" y2="518.60" stroke="#000" stroke-width="1.7" stroke-linecap="butt"/>
<line x1="54.10" y1="490.70" x2="60.70" y2="490.70" stroke="#000" stroke-width="1.7" stroke-linecap="butt"/>
<line x1="54.10" y1="518.60" x2="60.70" y2="518.60" stroke="#000" stroke-width="1.7" stroke-linecap="butt"/>
<line x1="89.16" y1="475.10" x2="89.16" y2="514.90" stroke="#000" stroke-width="1.7" stroke-linecap="butt"/>
<line x1="85.86" y1="475.10" x2="92.46" y2="475.10" stroke="#000" stroke-width="1.7" stroke-linecap="butt"/>
<line x1="85.86" y1="514.90" x2="92.46" y2="514.90" stroke="#000" stroke-width="1.7" stroke-linecap="butt"/>
<line x1="120.91" y1="523.70" x2="120.91" y2="549.90" stroke="#000" stroke-width="1.7" stroke-linecap="butt"/>
<line x1="117.61" y1="523.70" x2="124.21" y2="523.70" stroke="#000" stroke-width="1.7" stroke-linecap="butt"/>
<line x1="117.61" y1="549.90" x2="124.21" y2="549.90" stroke="#000" stroke-width="1.7" stroke-linecap="butt"/>
<line x1="247.94" y1="499.30" x2="247.94" y2="531.20" stroke="#000" stroke-width="1.7" stroke-linecap="butt"/>
<line x1="244.64" y1="499.30" x2="251.24" y2="499.30" stroke="#000" stroke-width="1.7" stroke-linecap="butt"/>
<line x1="244.64" y1="531.20" x2="251.24" y2="531.20" stroke="#000" stroke-width="1.7" stroke-linecap="butt"/>
<line x1="279.70" y1="510.20" x2="279.70" y2="538.50" stroke="#000" stroke-width="1.7" stroke-linecap="butt"/>
<line x1="276.40" y1="510.20" x2="283.00" y2="510.20" stroke="#000" stroke-width="1.7" stroke-linecap="butt"/>
<line x1="276.40" y1="538.50" x2="283.00" y2="538.50" stroke="#000" stroke-width="1.7" stroke-linecap="butt"/>
<polyline points="57.40,558.50 89.16,544.20 120.91,545.30 247.94,539.20 279.70,537.00" fill="none" stroke="#0033ff" stroke-width="1.7"/>
<polyline points="57.40,504.50 89.16,494.90 120.91,537.00 247.94,515.20 279.70,523.30" fill="none" stroke="#ff5b5b" stroke-width="1.7"/>
<circle cx="57.40" cy="558.50" r="2.8" fill="#0033ff" stroke="#000" stroke-width="1.7"/>
<circle cx="89.16" cy="544.20" r="2.8" fill="#0033ff" stroke="#000" stroke-width="1.7"/>
<circle cx="120.91" cy="545.30" r="2.8" fill="#0033ff" stroke="#000" stroke-width="1.7"/>
<circle cx="247.94" cy="539.20" r="2.8" fill="#0033ff" stroke="#000" stroke-width="1.7"/>
<circle cx="279.70" cy="537.00" r="2.8" fill="#0033ff" stroke="#000" stroke-width="1.7"/>
<circle cx="57.40" cy="504.50" r="2.8" fill="#ff5b5b" stroke="#000" stroke-width="1.7"/>
<circle cx="89.16" cy="494.90" r="2.8" fill="#ff5b5b" stroke="#000" stroke-width="1.7"/>
<circle cx="120.91" cy="537.00" r="2.8" fill="#ff5b5b" stroke="#000" stroke-width="1.7"/>
<circle cx="247.94" cy="515.20" r="2.8" fill="#ff5b5b" stroke="#000" stroke-width="1.7"/>
<circle cx="279.70" cy="523.30" r="2.8" fill="#ff5b5b" stroke="#000" stroke-width="1.7"/>
<path d="M57.40,473.30L57.40,470.00M57.40,473.30L60.54,472.28M57.40,473.30L59.34,475.97M57.40,473.30L55.46,475.97M57.40,473.30L54.26,472.28" stroke="#000" stroke-width="1.6" fill="none"/>
<path d="M89.10,461.00L89.10,457.70M89.10,461.00L92.24,459.98M89.10,461.00L91.04,463.67M89.10,461.00L87.16,463.67M89.10,461.00L85.96,459.98" stroke="#000" stroke-width="1.6" fill="none"/>
<line x1="238.10" y1="571.50" x2="255.70" y2="571.50" stroke="#0033ff" stroke-width="1.7" stroke-linecap="butt"/>
<circle cx="246.6" cy="571.5" r="2.8" fill="#0033ff" stroke="#000" stroke-width="1.7"/>
<line x1="238.10" y1="583.70" x2="255.70" y2="583.70" stroke="#ff5b5b" stroke-width="1.7" stroke-linecap="butt"/>
<circle cx="246.6" cy="583.7" r="2.8" fill="#ff5b5b" stroke="#000" stroke-width="1.7"/>
<text x="264.90" y="575.80" font-size="12.3" text-anchor="start">CP</text>
<text x="264.90" y="588.00" font-size="12.3" text-anchor="start">SP</text>
<rect x="35.1" y="46.5" width="113.8" height="61.8" fill="#000"/>
<rect x="35.5" y="109.8" width="113.1" height="62.7" fill="#000"/>
<polygon points="43.2,81.9 44.7,75.2 48.1,71.8 53.1,70.1 59.8,68.4 66.5,65.5 74.1,63.0 80.8,60.5 86.7,59.2 93.0,58.8 96.4,59.2 111.5,60.0 115.7,62.6 121.6,66.8 125.8,68.9 132.5,70.1 136.7,72.6 139.6,76.8 140.5,80.2 138.4,86.9 133.3,91.1 125.8,94.5 117.4,97.8 109.0,100.8 98.9,103.3 93.0,104.5 81.7,104.1 73.3,102.0 66.5,99.9 59.8,97.8 53.1,94.5 47.2,91.1 43.9,86.9" fill="#9af3f7"/>
<polyline points="48.1,71.8 53.1,70.1 59.8,68.4 66.5,65.5 74.1,63.0 80.8,60.5 86.7,59.2 93.0,58.8 96.4,59.2 111.5,60.0 115.7,62.6 121.6,66.8 125.8,68.9 132.5,70.1 136.7,72.6 139.6,76.8 140.5,80.2" fill="none" stroke="#eeea00" stroke-width="0.9" stroke-linejoin="round"/>
<polygon points="51.9,73.9 48.1,76.8 46.2,81.9 47.2,87.7 51.4,91.1 59.0,94.0 65.7,95.7 70.3,96.6 67.4,93.2 60.7,90.3 56.5,87.3 54.8,81.9 55.2,76.8 56.9,73.9 55.6,73.5" fill="#eeea00"/>
<polygon points="127.5,73.1 133.3,72.2 137.5,75.2 138.8,79.3 137.5,84.4 133.3,88.6 126.6,92.4 119.9,95.3 114.9,96.6 117.4,91.9 124.1,87.7 128.3,82.7 130.0,77.7 129.1,74.3" fill="#eeea00"/>
<polygon points="58.6,81.0 62.3,74.3 68.2,70.5 74.1,67.6 81.7,65.9 75.8,69.3 72.4,71.4 72.8,73.9 78.3,75.2 84.2,74.7 78.3,76.0 73.7,76.8 73.3,80.2 73.3,84.8 65.7,85.6 60.7,84.0" fill="#ee00ee"/>
<polygon points="110.2,81.0 110.2,76.8 104.8,75.9 98.1,75.6 93.0,76.6 98.9,74.5 104.8,74.3 111.5,73.5 113.2,72.2 119.1,71.8 122.4,73.9 124.9,78.5 123.3,82.7 119.9,84.8 112.3,84.0" fill="#ee00ee"/>
<polygon points="98.9,64.7 106.1,65.2 105.5,66.6 102.0,67.0 102.3,69.2 106.1,69.6 105.5,71.0 99.3,71.0" fill="#ee00ee"/>
<path d="M88,86.3 L91.8,88.6 L98.1,86.1 M91.8,88.6 L91.8,97.8" fill="none" stroke="#f2f0f0" stroke-width="1.5"/>
<circle cx="91.8" cy="88.4" r="1.6" fill="none" stroke="#f2f0f0" stroke-width="1.1"/>
<path d="M101.9,86.1 L104,89.4 L101.4,92.8" fill="none" stroke="#f2f0f0" stroke-width="1.3"/>
<path d="M81.5,86.5 L79.6,89.4 L82.3,92.8" fill="none" stroke="#f2f0f0" stroke-width="1.3"/>
<polygon points="41.2,146.1 43.0,140.7 47.2,137.3 54.8,134.4 63.2,131.4 71.6,128.5 80.0,125.6 86.7,124.7 93.0,124.7 101.6,125.7 108.9,128.0 117.9,131.2 127.9,134.3 137.0,136.1 142.4,138.9 145.3,143.0 142.4,147.0 136.1,150.7 127.9,156.1 118.9,160.6 110.7,164.3 101.6,167.5 93.0,168.4 85.0,166.7 75.8,164.2 66.5,161.2 57.3,158.3 48.9,154.9 43.0,150.7" fill="#9af3f7"/>
<polyline points="54.8,134.4 63.2,131.4 71.6,128.5 80.0,125.6 86.7,124.7 93.0,124.7 101.6,125.7 108.9,128.0 117.9,131.2 127.9,134.3 137.0,136.1" fill="none" stroke="#eeea00" stroke-width="0.9" stroke-linejoin="round"/>
<polygon points="56.1,136.5 50.6,138.6 46.0,142.3 44.7,146.1 46.4,150.3 52.3,153.7 59.8,156.6 66.5,158.3 71.6,160.4 69.1,156.2 62.3,153.3 56.5,150.3 54.0,145.7 54.0,140.7 56.1,136.9" fill="#eeea00"/>
<polygon points="126.1,135.7 132.5,136.1 138.8,138.4 141.5,142.0 139.7,146.1 133.4,150.7 126.1,154.3 118.9,157.9 113.4,159.7 117.9,156.1 124.3,152.0 128.8,148.0 131.1,143.4 130.6,139.3 127.9,136.6" fill="#eeea00"/>
<polygon points="56.1,144.9 59.0,140.7 64.9,136.9 71.6,134.0 78.3,131.4 77.5,135.6 73.3,138.6 74.9,141.5 80.8,140.7 85.9,141.1 80.0,142.3 75.4,144.9 74.9,149.9 69.9,152.0 63.2,151.2 57.3,148.2" fill="#ee00ee"/>
<polygon points="104.8,131.6 110.7,133.0 117.9,135.7 124.3,139.8 127.9,144.3 126.1,148.0 120.7,150.2 113.4,150.2 110.2,148.0 109.3,143.0 106.6,140.7 102.5,140.2 106.1,138.9 106.6,135.2" fill="#ee00ee"/>
<polygon points="93.9,143.6 98.0,140.5 98.4,141.6 94.6,144.3" fill="#ee00ee"/>
<path d="M88.5,151.1 L93,152.6 L98.9,151.1 M93,152.6 L93,162.5" fill="none" stroke="#f2f0f0" stroke-width="1.5"/>
<circle cx="93" cy="152.2" r="1.7" fill="none" stroke="#f2f0f0" stroke-width="1.1"/>
<path d="M103.4,149.3 L105.2,153.4 L102.5,157.9" fill="none" stroke="#f2f0f0" stroke-width="1.3"/>
<path d="M81,150.7 L80.5,154.5 L84.2,158.3" fill="none" stroke="#f2f0f0" stroke-width="1.3"/>
<text x="22.25" y="81.80" font-size="14.1" text-anchor="middle">CP</text>
<text x="21.95" y="146.00" font-size="14.2" text-anchor="middle">SP</text>
</svg>
</body></html>
